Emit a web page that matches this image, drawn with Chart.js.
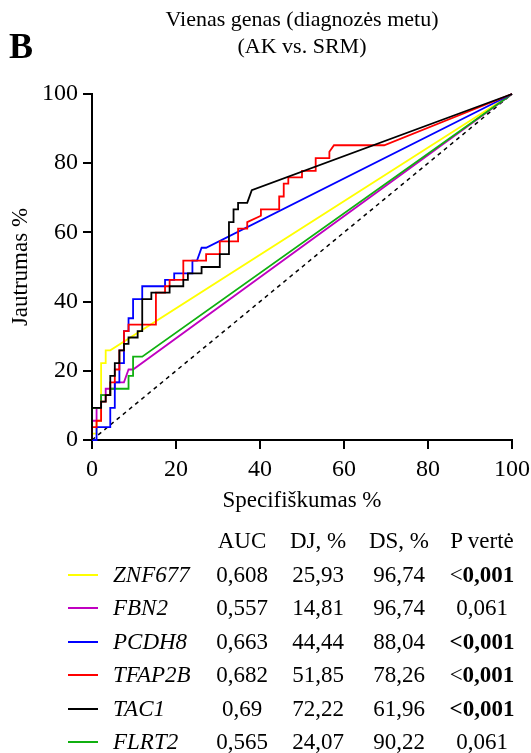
<!DOCTYPE html>
<html>
<head>
<meta charset="utf-8">
<script src="https://cdn.jsdelivr.net/npm/chart.js@4.4.0/dist/chart.umd.min.js"></script>
<style>
body { margin: 0; background: #fff; color: #000; font-family: 'Liberation Serif', 'Times New Roman', serif; }
#wrap { position: relative; width: 531px; height: 753px; overflow: hidden; }
canvas { position: absolute; left: 0; top: 0; }
.t { position: absolute; white-space: nowrap; line-height: 26px; }
.c { text-align: center; width: 100px; }
</style>
</head>
<body>
<div id="wrap">
  <canvas id="rocChart" width="531" height="753"></canvas>
  <div class="t" style="left:9px; top:26px; font-size:36px; line-height:40px; font-weight:bold;">B</div>
  <div class="t" style="left:0; width:604px; text-align:center; top:6px; font-size:22px;">Vienas genas (diagnozės metu)</div>
  <div class="t" style="left:0; width:604px; text-align:center; top:33px; font-size:22px;">(AK vs. SRM)</div>
  <div id="table"></div>
</div>

<script>
// ROC kreivės: x = 100 - specifiškumas %, y = jautrumas %
const curveZNF677 = [[0,0],[0,1.85],[1.09,1.85],[1.09,5.56],[2.17,5.56],[2.17,22.22],[3.26,22.22],[3.26,25.93],[4.35,25.93],[100,100]];
const curveFBN2 = [[0,0],[0,5.56],[1.09,5.56],[1.09,9.26],[2.17,9.26],[2.17,12.96],[3.26,12.96],[3.26,14.81],[5.43,14.81],[5.43,16.67],[7.61,16.67],[8.7,20.37],[9.78,20.37],[100,100]];
const curvePCDH8 = [[0,0],[1.09,0],[1.09,3.7],[4.35,3.7],[4.35,9.26],[5.43,9.26],[5.43,16.67],[6.52,16.67],[6.52,22.22],[7.61,22.22],[7.61,31.48],[8.7,31.48],[8.7,35.19],[9.78,35.19],[9.78,40.74],[11.96,40.74],[11.96,44.44],[17.39,44.44],[17.39,46.3],[19.57,46.3],[19.57,48.15],[23.91,48.15],[23.91,51.85],[25,51.85],[26.09,55.56],[27.17,55.56],[100,100]];
const curveTFAP2B = [[0,0],[0,3.7],[1.09,3.7],[1.09,5.56],[2.17,5.56],[2.17,11.11],[3.26,11.11],[3.26,12.96],[4.35,12.96],[4.35,16.67],[5.43,16.67],[5.43,20.37],[6.52,20.37],[6.52,25.93],[7.61,25.93],[7.61,31.48],[8.7,31.48],[8.7,33.33],[15.22,33.33],[15.22,42.59],[17.39,42.59],[17.39,44.44],[18.48,44.44],[18.48,46.3],[21.74,46.3],[21.74,51.85],[27.17,51.85],[27.17,53.7],[30.43,53.7],[30.43,57.41],[34.78,57.41],[34.78,61.11],[36.96,61.11],[36.96,62.96],[40.22,64.81],[40.22,66.67],[44.57,66.67],[44.57,70.37],[45.65,70.37],[45.65,74.07],[46.74,74.07],[46.74,75.93],[50,75.93],[50,77.78],[53.26,77.78],[53.26,81.48],[56.52,81.48],[56.52,83.33],[57.61,85.19],[69.57,85.19],[100,100]];
const curveTAC1 = [[0,0],[0,9.26],[2.17,9.26],[2.17,11.11],[3.26,11.11],[3.26,12.96],[4.35,12.96],[4.35,18.52],[5.43,18.52],[5.43,22.22],[6.52,22.22],[6.52,25.93],[7.61,25.93],[7.61,27.78],[8.7,27.78],[8.7,29.63],[10.87,29.63],[10.87,31.48],[11.96,31.48],[11.96,40.74],[14.13,40.74],[14.13,42.59],[18.48,42.59],[18.48,44.44],[21.74,44.44],[21.74,46.3],[22.83,46.3],[22.83,48.15],[26.09,48.15],[26.09,50],[30.43,50],[30.43,53.7],[32.61,53.7],[32.61,62.96],[33.7,62.96],[33.7,66.67],[34.78,66.67],[34.78,68.52],[36.96,68.52],[38.04,72.22],[100,100]];
const curveFLRT2 = [[0,0],[0,9.26],[2.17,9.26],[2.17,12.96],[4.35,12.96],[4.35,14.81],[8.7,14.81],[8.7,18.52],[9.78,18.52],[9.78,24.07],[11.96,24.07],[100,100]];
const referenceLine = [[0,0],[100,100]];

// lentelė
const genes = ['ZNF677', 'FBN2', 'PCDH8', 'TFAP2B', 'TAC1', 'FLRT2'];
const aucValues = ['0,608', '0,557', '0,663', '0,682', '0,69', '0,565'];
const djValues = ['25,93', '14,81', '44,44', '51,85', '72,22', '24,07'];
const dsValues = ['96,74', '96,74', '88,04', '78,26', '61,96', '90,22'];
const pValues = ['<0,001', '0,061', '<0,001', '<0,001', '<0,001', '0,061'];
const headers = ['AUC', 'DJ, %', 'DS, %', 'P vertė'];
const xTicks = [0, 20, 40, 60, 80, 100];

// stiliai
const curves = [curveZNF677, curveFBN2, curvePCDH8, curveTFAP2B, curveTAC1, curveFLRT2];
const colors = ['#ffff00', '#c000c0', '#0000ff', '#ff0000', '#000000', '#10b010'];
const pBold = ['num', 'none', 'all', 'num', 'all', 'none'];

const toXY = arr => arr.map(p => ({ x: p[0], y: p[1] }));

// juodą braižom viršuje (pirmas rinkinys piešiamas paskutinis)
const drawOrder = [4, 3, 2, 5, 1, 0];
const datasets = drawOrder.map(i => ({
    label: genes[i],
    data: toXY(curves[i]),
    borderColor: colors[i],
    borderWidth: 1.8,
    showLine: true,
    pointRadius: 0,
    tension: 0,
    clip: 3
}));
datasets.push({
    label: 'ref',
    data: toXY(referenceLine),
    borderColor: '#000',
    borderWidth: 1.5,
    borderDash: [4, 4],
    showLine: true,
    pointRadius: 0,
    clip: 3
});

const axisGrid = { drawOnChartArea: false, drawTicks: true, tickLength: 9, color: '#000', lineWidth: 2 };
const axisBorder = { display: true, color: '#000', width: 2 };
const fam = "'Liberation Serif', 'Times New Roman', serif";

const ctx = document.getElementById('rocChart').getContext('2d');
const rocChart = new Chart(ctx, {
    type: 'scatter',
    data: { datasets: datasets },
    options: {
        responsive: false,
        animation: false,
        devicePixelRatio: 1,
        layout: { padding: { left: 0, right: 19, top: 94, bottom: 238 } },
        plugins: { legend: { display: false }, tooltip: { enabled: false } },
        scales: {
            x: {
                type: 'linear', min: 0, max: 100,
                afterFit: s => { s.height = 75; s.paddingRight = 0; s.paddingLeft = 0; },
                afterBuildTicks: s => { s.ticks = xTicks.map(v => ({ value: v })); },
                ticks: { color: '#000', font: { family: fam, size: 24 }, padding: 6, maxRotation: 0 },
                grid: axisGrid,
                border: axisBorder,
                title: { display: true, text: 'Specifiškumas %', color: '#000', font: { family: fam, size: 23 }, padding: { top: 0, bottom: 0 } }
            },
            y: {
                type: 'linear', min: 0, max: 100,
                afterFit: s => { s.width = 92; s.paddingTop = 0; s.paddingBottom = 0; },
                ticks: { stepSize: 20, color: '#000', font: { family: fam, size: 24 }, padding: 5 },
                grid: axisGrid,
                border: axisBorder,
                title: { display: true, text: 'Jautrumas %', color: '#000', font: { family: fam, size: 23 }, padding: { top: 7, bottom: 0 } }
            }
        }
    }
});

// lentelė su legenda
const colCenters = [242, 318, 399, 482];
const headerY = 541;
const rowY = [575, 608, 642, 675, 709, 742];
const table = document.getElementById('table');
function addText(html, left, centerY, extra) {
    const d = document.createElement('div');
    d.className = 't' + (extra ? ' ' + extra : '');
    d.style.left = left + 'px';
    d.style.top = (centerY - 13) + 'px';
    d.style.fontSize = '23px';
    d.innerHTML = html;
    table.appendChild(d);
    return d;
}
headers.forEach((h, j) => addText(h, colCenters[j] - 50, headerY, 'c'));
genes.forEach((g, i) => {
    const y = rowY[i];
    const line = document.createElement('div');
    line.style.cssText = 'position:absolute;left:68px;width:30px;height:2px;top:' + (y - 1) + 'px;background:' + colors[i];
    table.appendChild(line);
    addText('<i>' + g + '</i>', 113, y);
    addText(aucValues[i], colCenters[0] - 50, y, 'c');
    addText(djValues[i], colCenters[1] - 50, y, 'c');
    addText(dsValues[i], colCenters[2] - 50, y, 'c');
    let p = pValues[i].replace('<', '&lt;');
    if (pBold[i] === 'all') p = '<b>' + p + '</b>';
    if (pBold[i] === 'num') p = '&lt;<b>' + pValues[i].slice(1) + '</b>';
    addText(p, colCenters[3] - 50, y, 'c');
});
</script>
</body>
</html>
